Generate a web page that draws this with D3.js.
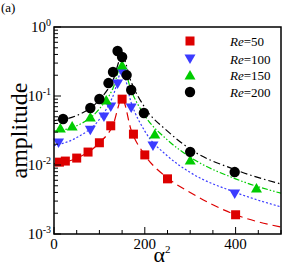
<!DOCTYPE html>
<html><head><meta charset="utf-8">
<script src="https://cdn.jsdelivr.net/npm/d3@7"></script>
<style>body{margin:0;background:#fff}svg{display:block}</style>
</head><body><svg id="c" width="293" height="270" font-family="'Liberation Serif', 'DejaVu Serif', serif"></svg>
<script>
const seriesNames = ["50","100","150","200"];
const colors = ["#dd0000","#3b3bff","#00cc00","#000000"];
const dashes = ["8,5","2,2","6,2,1.5,2,1.5,2","7,3,1.5,3"];

// markers
const reX50 = [12,25,50,75,100,125,150,175,200,250,400];
const reY50 = [0.011,0.0114,0.0126,0.0154,0.021,0.037,0.090,0.028,0.014,0.0063,0.0019];
const reX100 = [10,80,110,125,140,150,170,218,398];
const reY100 = [0.0208,0.032,0.0497,0.069,0.149,0.22,0.067,0.0188,0.0038];
const reX150 = [14,40,80,115,150,222,300,446];
const reY150 = [0.0344,0.0367,0.0497,0.0875,0.281,0.0281,0.0118,0.00464];
const reX200 = [20,80,100,120,130,140,150,160,170,198,300,398];
const reY200 = [0.0464,0.067,0.0905,0.154,0.223,0.449,0.367,0.201,0.122,0.0567,0.0155,0.0079];

// fitted curves
const fitX = [0,50,100,130,150,170,200,250,300,400,500];
const fit50 = [0.0105,0.0125,0.021,0.038,0.092,0.032,0.014,0.0065,0.0040,0.0019,0.00126];
const fit100 = [0.019,0.025,0.046,0.10,0.23,0.080,0.031,0.0135,0.0078,0.0040,0.00247];
const fit150 = [0.031,0.037,0.065,0.13,0.29,0.12,0.052,0.023,0.013,0.0063,0.0039];
const fit200 = [0.044,0.052,0.088,0.17,0.38,0.16,0.068,0.031,0.017,0.0085,0.0053];

const xTicks = [0,200,400];
const yTicks = [1,0.1,0.01,0.001];
const yTickExp = ["0","-1","-2","-3"];

const markersX = [reX50,reX100,reX150,reX200];
const markersY = [reY50,reY100,reY150,reY200];
const fits = [fit50,fit100,fit150,fit200];
const shapes = ["square","tdown","tup","circle"];

const svg = d3.select("#c");
const FONT = "'Liberation Serif', 'DejaVu Serif', serif";
const L=54,T=27,R=281,B=234;
const x = d3.scaleLinear().domain([0,500]).range([L,R]);
const y = d3.scaleLog().domain([0.001,1]).range([B,T]);

// fits
const line = d3.line().x(d=>x(d[0])).y(d=>y(d[1])).curve(d3.curveMonotoneX);
svg.append("clipPath").attr("id","cp").append("rect").attr("x",L).attr("y",T).attr("width",R-L).attr("height",B-T);
const g = svg.append("g").attr("clip-path","url(#cp)");
fits.forEach((f,i)=>{
  g.append("path").attr("d",line(fitX.map((xx,j)=>[xx,f[j]]))).attr("fill","none")
   .attr("stroke",colors[i]).attr("stroke-width",1.2).attr("stroke-dasharray",dashes[i]);
});

function drawMarker(sel,shape,cx,cy,col){
  if(shape==="square") sel.append("rect").attr("x",cx-4.5).attr("y",cy-4.5).attr("width",9).attr("height",9).attr("fill",col);
  else if(shape==="circle") sel.append("circle").attr("cx",cx).attr("cy",cy).attr("r",5.2).attr("fill",col);
  else if(shape==="tdown") sel.append("path").attr("d",`M${cx-5.5},${cy-4.5}L${cx+5.5},${cy-4.5}L${cx},${cy+5}Z`).attr("fill",col);
  else sel.append("path").attr("d",`M${cx-5.5},${cy+4.5}L${cx+5.5},${cy+4.5}L${cx},${cy-5}Z`).attr("fill",col);
}
const mg = svg.append("g");
markersX.forEach((xs,i)=>{
  xs.forEach((xx,j)=>drawMarker(mg,shapes[i],x(xx),y(markersY[i][j]),colors[i]));
});

// frame
svg.append("rect").attr("x",L).attr("y",T).attr("width",R-L).attr("height",B-T).attr("fill","none").attr("stroke","#000").attr("stroke-width",1.5);

// x ticks
const xAll = d3.range(0,501,50);
svg.append("g").selectAll("line").data(xAll).join("line")
  .attr("x1",d=>x(d)).attr("x2",d=>x(d)).attr("y1",B).attr("y2",d=>xTicks.includes(d)?B-7:B-4)
  .attr("stroke","#000").attr("stroke-width",1);
svg.append("g").selectAll("text").data(xTicks).join("text")
  .attr("font-family",FONT)
  .attr("x",d=>x(d)).attr("y",B+15).attr("text-anchor","middle").attr("font-size",15).text(d=>d);

// y ticks
const minors=[];
for(let e=-3;e<0;e++) for(let m=2;m<10;m++) minors.push(m*Math.pow(10,e));
svg.append("g").selectAll("line").data(minors).join("line")
  .attr("x1",L).attr("x2",L+4).attr("y1",d=>y(d)).attr("y2",d=>y(d)).attr("stroke","#000").attr("stroke-width",1);
svg.append("g").selectAll("line").data(yTicks).join("line")
  .attr("x1",L).attr("x2",L+7).attr("y1",d=>y(d)).attr("y2",d=>y(d)).attr("stroke","#000").attr("stroke-width",1);
const yl = svg.append("g").selectAll("text").data(yTicks).join("text")
  .attr("font-family",FONT)
  .attr("x",L-3).attr("y",d=>y(d)+5).attr("text-anchor","end").attr("font-size",15);
yl.append("tspan").text("10");
yl.append("tspan").attr("dy",-6).attr("font-size",10).text((d,i)=>yTickExp[i]);

// axis labels
svg.append("text").attr("font-family",FONT).attr("transform",`translate(27,${(T+B)/2}) rotate(-90)`).attr("text-anchor","middle")
  .attr("font-size",24).text("amplitude");
const xl = svg.append("text").attr("font-family",FONT).attr("x",162).attr("y",262).attr("text-anchor","middle").attr("font-size",22);
xl.append("tspan").text("α");
xl.append("tspan").attr("dy",-9).attr("font-size",11).text("2");
svg.append("text").attr("font-family",FONT).attr("x",1).attr("y",12).attr("font-size",13).text("(a)");

// legend
const legY=[41,59,75,92];
seriesNames.forEach((n,i)=>{
  drawMarker(svg,shapes[i],190,legY[i],colors[i]);
  const t = svg.append("text").attr("font-family",FONT).attr("x",230).attr("y",legY[i]+4.5).attr("font-size",13);
  t.append("tspan").attr("font-style","italic").text("Re");
  t.append("tspan").text("="+n);
});
</script></body></html>
